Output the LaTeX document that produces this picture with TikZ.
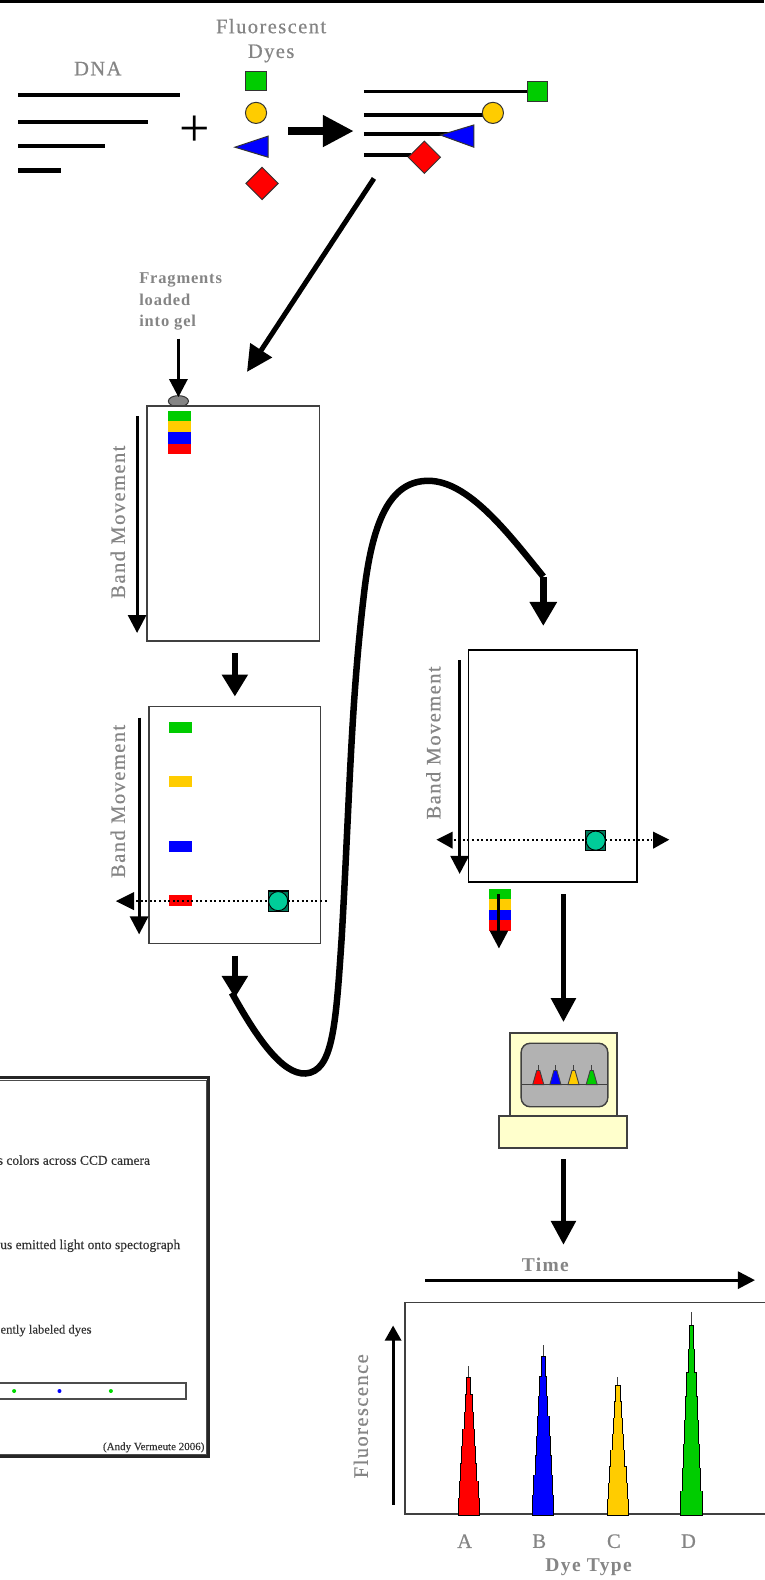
\documentclass[tikz,border=0pt]{standalone}
\usepackage{fontspec}
\setmainfont{Liberation Serif}
\usetikzlibrary{arrows.meta}
\definecolor{dgreen}{HTML}{00CC00}
\definecolor{dyellow}{HTML}{FFCC00}
\definecolor{dblue}{HTML}{0000FF}
\definecolor{dred}{HTML}{FF0000}
\definecolor{teal2}{HTML}{00CC99}
\definecolor{lab}{HTML}{858585}
\definecolor{edgec}{HTML}{404040}
\definecolor{pale}{HTML}{FFFFCC}
\definecolor{scr}{HTML}{B2B2B2}
\tikzset{
  big/.style={text=lab,font=\fontsize{20.5}{24}\selectfont\addfontfeatures{LetterSpace=7,FakeBold=0.5}},
  small/.style={text=lab,font=\fontsize{16.5}{21.5}\selectfont\bfseries\addfontfeatures{LetterSpace=5},align=left},
  mid/.style={text=lab,font=\fontsize{19.5}{24}\selectfont\bfseries\addfontfeatures{LetterSpace=7}},
  inset/.style={text=black!80,font=\fontsize{13.5}{15}\selectfont\addfontfeatures{FakeBold=0.3},anchor=east,inner sep=0pt},
  dnaline/.style={line width=4.5pt},
  gel/.style={draw=edgec,line width=1.5pt,fill=white},
  band/.style={fill=#1,draw=none},
  dye/.style={draw=black!80,line width=1pt,fill=#1},
  thinarrow/.style={line width=3pt,-{Triangle[width=18pt,length=18pt]},shorten >=-1pt},
  fatarrow/.style={line width=6pt,-{Triangle[width=25pt,length=22pt]}},
  scan/.style={line width=2pt,dash pattern=on 2pt off 2.6pt},
  headtri/.style={fill=black,draw=none},
}
\newcommand{\campoint}[2]{%
  \fill[teal2!60!black] (#1-10,#2-10) rectangle (#1+10,#2+10);
  \draw[black,line width=1.2pt] (#1-10,#2-10) rectangle (#1+10,#2+10);
  \draw[black,line width=.9pt,fill=teal2] (#1,#2) circle (9.5);
}
\newcommand{\stepped}[4]{% x, top, spike, colour
  \draw[edgec,line width=1pt] (#1,#2) -- (#1,#3);
  \foreach \i in {0,...,7}{
    \pgfmathsetmacro{\ya}{1504-\i*(1504-#2)/8}
    \pgfmathsetmacro{\yb}{1504-(\i+1)*(1504-#2)/8}
    \pgfmathsetmacro{\ww}{10.7-\i*1.2}
    \fill[black] (#1-\ww-.4,\ya) rectangle (#1+\ww+.4,\yb-.8);
  }
  \foreach \i in {0,...,7}{
    \pgfmathsetmacro{\ya}{1503-\i*(1503-#2)/8}
    \pgfmathsetmacro{\yb}{1503-(\i+1)*(1503-#2)/8}
    \pgfmathsetmacro{\ww}{10.7-\i*1.2}
    \fill[#4] (#1-\ww+.7,\ya) rectangle (#1+\ww-.7,\yb);
  }
}
\begin{document}
\begin{tikzpicture}[x=1.008pt,y=-1.008pt]
\useasboundingbox (0,0) rectangle (758,1567.5);
\fill[white] (0,0) rectangle (758,1567.5);
\fill[black] (0,0) rectangle (758,2.5);

% --- top: DNA + dyes
\node[big] (dna) at (97,68) {DNA};
\node[big] (fl) at (269,26) {Fluorescent};
\node[big] (dy) at (269,53) {Dyes};
\draw[dnaline] (18,94) -- (179,94);
\draw[dnaline] (18,121) -- (147,121);
\draw[dnaline] (18,145) -- (104,145);
\draw[dnaline] (18,169) -- (61,169);
\node[font=\fontsize{54}{54}\selectfont] (plus) at (193.5,130) {+};
\draw[dye=dgreen] (244,71) rectangle (264,90);
\draw[dye=dyellow] (254,112) circle (10.5);
\draw[dye=dblue] (233,146) -- (266,135) -- (266,156) -- cycle;
\draw[dye=dred] (260,166) -- (276,182) -- (260,198) -- (244,182) -- cycle;
\coordinate (ba) at (286,130); \coordinate (bb) at (351,130);
\draw[line width=8pt,-{Triangle[width=30pt,length=31pt]}] (ba) -- (bb);

% --- tagged fragments
\draw[line width=2.8pt] (361,91) -- (523,91);
\draw[dye=dgreen] (523,81) rectangle (543,101);
\draw[line width=4pt] (361,114) -- (480,114);
\draw[dye=dyellow] (489,112) circle (10.5);
\draw[line width=4pt] (361,133) -- (445,133);
\draw[dye=dblue] (437,134) -- (470,124) -- (470,146) -- cycle;
\draw[line width=4pt] (361,154) -- (408,154);
\draw[dye=dred] (421,140) -- (437,156) -- (421,172) -- (405,156) -- cycle;
\coordinate (da) at (371,177); \coordinate (db) at (245,369);
\draw[line width=5pt,-{Triangle[width=25pt,length=26pt]}] (da) -- (db);

% --- gel 1
\node[small,anchor=north west,inner sep=0pt] (frag) at (138,270.5) {Fragments\\loaded\\into gel};
\draw[dye=lab] (177,398) ellipse (10 and 5.5);
\coordinate (fa) at (177,336); \coordinate (fb) at (177,393);
\draw[thinarrow] (fa) -- (fb);
\draw[gel] (146,403) rectangle (317,636);
\fill[band=dgreen] (167,408) rectangle (189,418);
\fill[band=dyellow] (167,418) rectangle (189,429);
\fill[band=dblue] (167,429) rectangle (189,440);
\fill[band=dred] (167,440) rectangle (189,450);
\node[big,rotate=90] (bm1) at (117,518) {Band Movement};
\coordinate (m1a) at (136,413); \coordinate (m1b) at (136,627);
\draw[thinarrow] (m1a) -- (m1b);
\coordinate (g12a) at (233,648); \coordinate (g12b) at (233,691);
\draw[fatarrow] (g12a) -- (g12b);

% --- gel 2
\draw[gel] (148,701) rectangle (318,936);
\fill[band=dgreen] (168,716) rectangle (190,727);
\fill[band=dyellow] (168,770) rectangle (190,781);
\fill[band=dblue] (168,834) rectangle (190,845);
\fill[band=dred] (168,888) rectangle (190,899);
\node[big,rotate=90] (bm2) at (117,795) {Band Movement};
\coordinate (m2a) at (138,712); \coordinate (m2b) at (138,926);
\draw[thinarrow] (m2a) -- (m2b);
\draw[scan] (135,894) -- (325,894);
\fill[headtri] (115,894) -- (133,885) -- (133,903) -- cycle;
\campoint{276}{894}
\coordinate (g23a) at (233,948); \coordinate (g23b) at (233,990);
\draw[fatarrow] (g23a) -- (g23b);

% --- long S curve
\coordinate (sa) at (230,985); \coordinate (sb) at (539,572);
\draw[line width=6.5pt] (sa) .. controls (255,1030) and (280,1066) .. (303,1065)
  .. controls (330,1063) and (333,1020) .. (339,930)
  .. controls (347,790) and (348,700) .. (361,590)
  .. controls (370,510) and (390,477) .. (425,477)
  .. controls (465,477) and (505,530) .. (sb);
\coordinate (sc) at (539,621);
\draw[line width=6.5pt,-{Triangle[width=26pt,length=24pt]}] (sb) -- (sc);

% --- gel 3
\draw[gel,draw=black] (465,645) rectangle (632,875);
\node[big,rotate=90] (bm3) at (430,737) {Band Movement};
\coordinate (m3a) at (456,655); \coordinate (m3b) at (456,866);
\draw[thinarrow] (m3a) -- (m3b);
\draw[scan] (450,833) -- (647,833);
\fill[headtri] (433,833) -- (449,825) -- (449,842) -- cycle;
\fill[headtri] (664,833) -- (648,825) -- (648,842) -- cycle;
\campoint{591}{834}
\fill[band=dgreen] (485,882) rectangle (507,892);
\fill[band=dyellow] (485,892) rectangle (507,903);
\fill[band=dblue] (485,903) rectangle (507,913);
\fill[band=dred] (485,913) rectangle (507,924);
\coordinate (pa) at (495,887); \coordinate (pb) at (495,940);
\draw[thinarrow] (pa) -- (pb);
\coordinate (ca) at (559,887); \coordinate (cb) at (559,1014);
\draw[line width=5.5pt,-{Triangle[width=24pt,length=24pt]}] (ca) -- (cb);

% --- computer
\draw[draw=edgec,line width=1.4pt,fill=pale] (506,1025) rectangle (612,1108);
\draw[draw=edgec,line width=1.4pt,fill=scr,rounded corners=9pt] (517,1035) rectangle (603,1098);
\foreach \cx/\cc in {534/dred,551/dblue,569/dyellow,587/dgreen}{
  \draw[line width=.9pt,draw=black!75] (\cx,1063) -- (\cx,1057);
  \draw[line width=.9pt,draw=black!75,fill=\cc] (\cx-5.5,1076) -- (\cx-1.5,1062) -- (\cx+1.5,1062) -- (\cx+5.5,1076) -- cycle;
}
\draw[edgec,line width=1.2pt] (517,1076) -- (603,1076);
\draw[draw=edgec,line width=1.4pt,fill=pale] (495,1107) rectangle (622,1139);
\coordinate (ea) at (559,1150); \coordinate (eb) at (559,1235);
\draw[line width=5.5pt,-{Triangle[width=24pt,length=24pt]}] (ea) -- (eb);

% --- electropherogram
\node[mid] (time) at (541,1255) {Time};
\coordinate (ta) at (422,1270); \coordinate (tb) at (749,1270);
\draw[line width=2.8pt,-{Triangle[width=17pt,length=17pt]}] (ta) -- (tb);
\draw[edgec,line width=1.6pt] (760,1292) -- (402,1292) -- (402,1502) -- (760,1502);
\node[big,rotate=90] (flu) at (358,1405) {Fluorescence};
\coordinate (ua) at (390,1493); \coordinate (ub) at (390,1315);
\draw[line width=2.8pt,-{Triangle[width=16pt,length=15pt]}] (ua) -- (ub);
\stepped{465}{1367}{1355}{dred}
\stepped{539}{1346}{1334}{dblue}
\stepped{613}{1375}{1366}{dyellow}
\stepped{686}{1315}{1302}{dgreen}
\node[big] (la) at (461,1529) {A};
\node[big] (lb) at (535,1529) {B};
\node[big] (lc) at (609,1529) {C};
\node[big] (ld) at (683,1529) {D};
\node[mid] (dt) at (584,1555) {Dye Type};

% --- inset
\begin{scope}
\clip (0,1060) rectangle (215,1450);
\draw[black!70,line width=.8pt] (-5,1071.5) -- (204.5,1071.5) -- (204.5,1442.5) -- (-5,1442.5);
\draw[black!85,line width=2.6pt] (-5,1069) -- (207,1069) -- (207,1445) -- (-5,1445);
\node[inset] (t1) at (149,1151) {s colors across CCD camera};
\node[inset] (t2) at (179,1236) {us emitted light onto spectograph};
\node[inset,font=\fontsize{12.6}{15}\selectfont\addfontfeatures{FakeBold=0.3}] (t3) at (91,1320) {ently labeled dyes};
\draw[draw=black!70,line width=2pt] (-5,1372) -- (185,1372) -- (185,1388) -- (-5,1388);
\fill[dgreen!70!green] (14,1380) circle (2);
\fill[dblue] (59,1380) circle (2);
\fill[dgreen!70!green] (110,1380) circle (2);
\node[inset,font=\fontsize{11}{12}\selectfont\addfontfeatures{FakeBold=0.2}] (t4) at (203,1436) {(Andy Vermeute 2006)};
\end{scope}
\end{tikzpicture}
\end{document}
